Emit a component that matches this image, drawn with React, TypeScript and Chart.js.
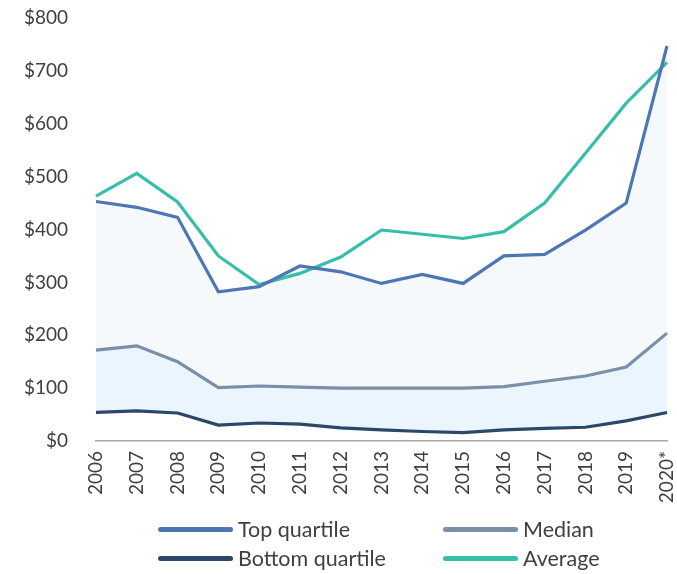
import React, { useEffect, useRef } from "react";
import { Chart, registerables } from "chart.js";

Chart.register(...registerables);

const years = ["2006", "2007", "2008", "2009", "2010", "2011", "2012", "2013", "2014", "2015", "2016", "2017", "2018", "2019", "2020*"];
const topQuartile = [453, 442, 423, 282, 292, 331, 320, 298, 315, 298, 350, 353, 399, 450, 747];
const median = [172, 180, 150, 101, 104, 102, 100, 100, 100, 100, 103, 113, 123, 140, 204];
const bottomQuartile = [54, 57, 53, 30, 34, 32, 25, 21, 18, 16, 21, 24, 26, 38, 54];
const average = [463, 506, 452, 350, 296, 317, 348, 399, 391, 383, 396, 450, 544, 639, 716];
const yTicks = [0, 100, 200, 300, 400, 500, 600, 700, 800];

const COLORS = {
  top: "#4f76b4",
  median: "#7a8fa8",
  bottom: "#2c4868",
  average: "#36bfa8",
};

const FONT = "Lato";
const TEXT = "#404040";

const legendItems = [
  { label: "Top quartile", color: COLORS.top, x: 158, y: 529 },
  { label: "Median", color: COLORS.median, x: 443, y: 529 },
  { label: "Bottom quartile", color: COLORS.bottom, x: 158, y: 558 },
  { label: "Average", color: COLORS.average, x: 443, y: 558 },
];

export default function App() {
  const ref = useRef<HTMLCanvasElement | null>(null);

  useEffect(() => {
    if (!ref.current) return;
    const chart = new Chart(ref.current, {
      type: "line",
      data: {
        labels: years,
        datasets: [
          {
            label: "Top quartile",
            data: topQuartile,
            borderColor: COLORS.top,
            backgroundColor: "#f5f9fc",
            borderWidth: 3.2,
            pointRadius: 0,
            tension: 0,
            fill: "+1",
          },
          {
            label: "Median",
            data: median,
            borderColor: COLORS.median,
            backgroundColor: "#ebf5fd",
            borderWidth: 3.2,
            pointRadius: 0,
            tension: 0,
            fill: "+1",
          },
          {
            label: "Bottom quartile",
            data: bottomQuartile,
            borderColor: COLORS.bottom,
            borderWidth: 3.2,
            pointRadius: 0,
            tension: 0,
            fill: false,
          },
          {
            label: "Average",
            data: average,
            borderColor: COLORS.average,
            borderWidth: 3.2,
            pointRadius: 0,
            tension: 0,
            fill: false,
          },
        ],
      },
      options: {
        animation: false,
        responsive: false,
        maintainAspectRatio: false,
        layout: { padding: { left: 0, right: 10, top: 18, bottom: 0 } },
        plugins: {
          legend: { display: false },
          tooltip: { enabled: false },
          filler: { drawTime: "beforeDatasetsDraw" },
        } as any,
        scales: {
          x: {
            offset: false,
            grid: { display: false, drawTicks: false },
            border: { display: true, color: "#a6a6a6", width: 1.5 },
            ticks: {
              minRotation: 90,
              maxRotation: 90,
              padding: 10,
              color: TEXT,
              font: { family: FONT, size: 19 },
              autoSkip: false,
            },
            afterFit: (scale: any) => {
              scale.height = 574 - 441;
              scale.paddingLeft = 0;
              scale.paddingRight = 0;
              scale.paddingTop = 0;
              scale.paddingBottom = 0;
            },
          },
          y: {
            min: 0,
            max: 800,
            grid: { display: false, drawTicks: false },
            border: { display: false },
            afterBuildTicks: (scale: any) => {
              scale.ticks = yTicks.map((v) => ({ value: v }));
            },
            ticks: {
              padding: 28,
              color: TEXT,
              font: { family: FONT, size: 19 },
              callback: (v: any) => "$" + v,
            },
            afterFit: (scale: any) => {
              scale.width = 96;
              scale.paddingLeft = 0;
              scale.paddingRight = 0;
              scale.paddingTop = 0;
              scale.paddingBottom = 0;
            },
          },
        },
      },
    });
    return () => chart.destroy();
  }, []);

  return (
    <div style={{ position: "absolute", left: 0, top: 0, width: 677, height: 574, background: "#fff" }}>
      <canvas ref={ref} width={677} height={574} style={{ display: "block" }} />
      {legendItems.map((it) => (
        <div key={it.label}>
          <div
            style={{
              position: "absolute",
              left: it.x,
              top: it.y - 2.5,
              width: 75,
              height: 5,
              borderRadius: 3,
              background: it.color,
            }}
          />
          <div
            style={{
              position: "absolute",
              left: it.x + 80,
              top: it.y - 14,
              height: 28,
              lineHeight: "28px",
              fontFamily: FONT,
              fontSize: 21.5,
              color: TEXT,
              whiteSpace: "nowrap",
            }}
          >
            {it.label}
          </div>
        </div>
      ))}
    </div>
  );
}
